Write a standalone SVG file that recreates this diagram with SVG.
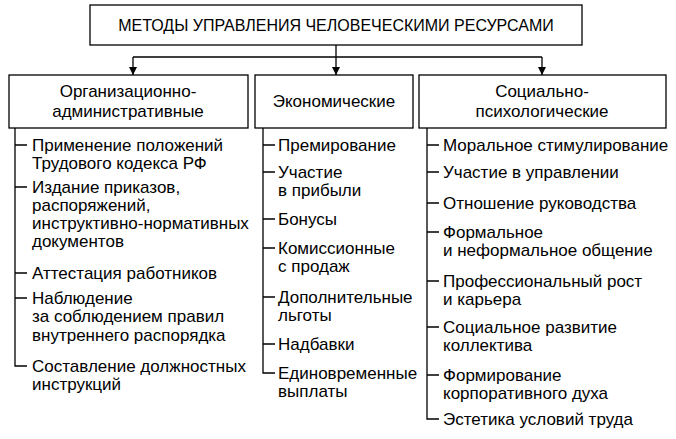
<svg xmlns="http://www.w3.org/2000/svg" width="676" height="439" viewBox="0 0 676 439">
<style>
.b{fill:#fff;stroke:#000;stroke-width:1.3}
.l{fill:none;stroke:#000;stroke-width:1.3}
text{font-family:"Liberation Sans",Arial,sans-serif;font-size:17px;fill:#000}
.t{font-size:16px}
.c{text-anchor:middle}
</style>
<defs><marker id="d" viewBox="0 0 10 10" markerWidth="8" markerHeight="10" refX="10" refY="5" orient="auto" markerUnits="userSpaceOnUse"><path d="M0,0 L10,5 L0,10 Z" fill="#000"/></marker></defs>
<g id="root"><rect class="b" x="90" y="5" width="492" height="40"/><text class="c t" x="336" y="31">МЕТОДЫ УПРАВЛЕНИЯ ЧЕЛОВЕЧЕСКИМИ РЕСУРСАМИ</text></g>
<g id="org"><rect class="b" x="9" y="75" width="239" height="53"/><text class="c" x="128" y="97">Организационно-</text><text class="c" x="128" y="117">административные</text></g>
<g id="eco"><rect class="b" x="255" y="75" width="158" height="53"/><text class="c" x="334" y="107">Экономические</text></g>
<g id="soc"><rect class="b" x="419" y="75" width="247" height="53"/><text class="c" x="542" y="97">Социально-</text><text class="c" x="542" y="117">психологические</text></g>
<g id="connectors">
<path class="l" d="M336,45 V57 M133,57 H542"/>
<path class="l" d="M133,57 V75" marker-end="url(#d)"/>
<path class="l" d="M336,57 V75" marker-end="url(#d)"/>
<path class="l" d="M542,57 V75" marker-end="url(#d)"/>
<path class="l" d="M15,128 V366 H27 M15,145 H27 M15,187 H27 M15,273 H27 M15,298 H27"/>
<path class="l" d="M263,128 V373 H275 M263,145 H275 M263,172 H275 M263,219 H275 M263,248 H275 M263,297 H275 M263,344 H275"/>
<path class="l" d="M427,128 V419 H439 M427,145 H439 M427,172 H439 M427,203 H439 M427,232 H439 M427,281 H439 M427,327 H439 M427,375 H439"/>
</g>
<g id="items">
<text x="32" y="151">Применение положений</text><text x="32" y="169">Трудового кодекса РФ</text>
<text x="32" y="193">Издание приказов,</text><text x="32" y="211">распоряжений,</text><text x="32" y="229">инструктивно-нормативных</text><text x="32" y="247">документов</text>
<text x="32" y="279">Аттестация работников</text>
<text x="32" y="304">Наблюдение</text><text x="32" y="322">за соблюдением правил</text><text x="32" y="341">внутреннего распорядка</text>
<text x="32" y="372">Составление должностных</text><text x="32" y="390">инструкций</text>
<text x="278" y="151">Премирование</text>
<text x="278" y="178">Участие</text><text x="278" y="196">в прибыли</text>
<text x="278" y="225">Бонусы</text>
<text x="278" y="254">Комиссионные</text><text x="278" y="272">с продаж</text>
<text x="278" y="303">Дополнительные</text><text x="278" y="321">льготы</text>
<text x="278" y="350">Надбавки</text>
<text x="278" y="379">Единовременные</text><text x="278" y="397">выплаты</text>
<text x="443" y="151">Моральное стимулирование</text>
<text x="443" y="178">Участие в управлении</text>
<text x="443" y="209">Отношение руководства</text>
<text x="443" y="238">Формальное</text><text x="443" y="256">и неформальное общение</text>
<text x="443" y="287">Профессиональный рост</text><text x="443" y="305">и карьера</text>
<text x="443" y="333">Социальное развитие</text><text x="443" y="351">коллектива</text>
<text x="443" y="381">Формирование</text><text x="443" y="399">корпоративного духа</text>
<text x="443" y="425">Эстетика условий труда</text>
</g>
</svg>
